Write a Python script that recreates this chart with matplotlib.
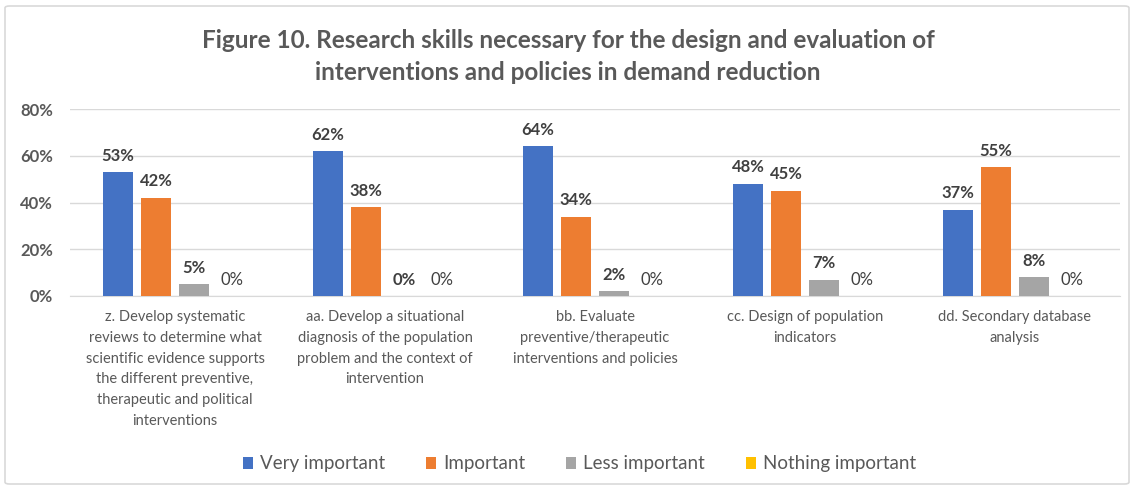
import numpy as np
import matplotlib.pyplot as plt
from matplotlib.patches import FancyBboxPatch
from matplotlib.ticker import PercentFormatter

categories = [
    "z. Develop systematic\nreviews to determine what\nscientific evidence supports\nthe different preventive,\ntherapeutic and political\ninterventions",
    "aa. Develop a situational\ndiagnosis of the population\nproblem and the context of\nintervention",
    "bb. Evaluate\npreventive/therapeutic\ninterventions and policies",
    "cc. Design of population\nindicators",
    "dd. Secondary database\nanalysis",
]
series = ["Very important", "Important", "Less important", "Nothing important"]
very_important = [53, 62, 64, 48, 37]
important = [42, 38, 34, 45, 55]
less_important = [5, 0, 2, 7, 8]
nothing_important = [0, 0, 0, 0, 0]

colors = ["#4472C4", "#ED7D31", "#A5A5A5", "#FFC000"]
text_col = "#595959"

plt.rcParams["font.family"] = ["Lato", "DejaVu Sans"]

fig = plt.figure(figsize=(11.36, 4.88), dpi=100)
ax = fig.add_axes([70 / 1136, 1 - 296 / 488, 1050 / 1136, 187 / 488])

# light frame around the whole chart
fig.patches.append(FancyBboxPatch((5 / 1136, 4 / 488), 1124 / 1136, 478 / 488,
                                  boxstyle="round,pad=0,rounding_size=0.004",
                                  transform=fig.transFigure, fill=False,
                                  edgecolor="#D9D9D9", linewidth=1.2))

x = np.arange(len(categories))
width = 0.14
step = 0.181
data = [very_important, important, less_important, nothing_important]
for i, (name, vals, col) in enumerate(zip(series, data, colors)):
    pos = x + (i - 1.5) * step
    bars = ax.bar(pos, vals, width, color=col, label=name, zorder=3)
    weight = "normal" if i == 3 else "bold"
    for b, v in zip(bars, vals):
        ax.annotate(f"{v}%", (b.get_x() + b.get_width() / 2, v),
                    xytext=(0, 6), textcoords="offset points",
                    ha="center", va="bottom", fontsize=12,
                    fontweight=weight, color="#404040")

ax.set_ylim(0, 80)
ax.set_xlim(-0.5, len(categories) - 0.5)
ax.yaxis.set_major_formatter(PercentFormatter(decimals=0))
ax.set_yticks([0, 20, 40, 60, 80])
ax.grid(axis="y", color="#D9D9D9", linewidth=1, zorder=0)
for s in ["top", "right", "left"]:
    ax.spines[s].set_visible(False)
ax.spines["bottom"].set_color("#D9D9D9")
ax.tick_params(axis="both", length=0)
ax.tick_params(axis="y", pad=12)
for t in ax.get_yticklabels():
    t.set_fontweight("bold")
    t.set_color(text_col)
    t.set_fontsize(12)
ax.set_xticks(x)
ax.set_xticklabels(categories, fontsize=10.5, color=text_col, linespacing=1.62)
ax.tick_params(axis="x", pad=10)

fig.text(0.5, 1 - 40 / 488, "Figure 10. Research skills necessary for the design and evaluation of",
         ha="center", va="center", fontsize=17.5, fontweight="bold", color=text_col)
fig.text(0.5, 1 - 72 / 488, "interventions and policies in demand reduction",
         ha="center", va="center", fontsize=17.5, fontweight="bold", color=text_col)

fig.legend(loc="center", bbox_to_anchor=(0.51, 1 - 464 / 488), ncol=4, frameon=False,
           fontsize=13.5, labelcolor=text_col, handlelength=0.55, handleheight=0.55,
           handletextpad=0.35, columnspacing=2.2)

fig.savefig("out.png", dpi=100)
